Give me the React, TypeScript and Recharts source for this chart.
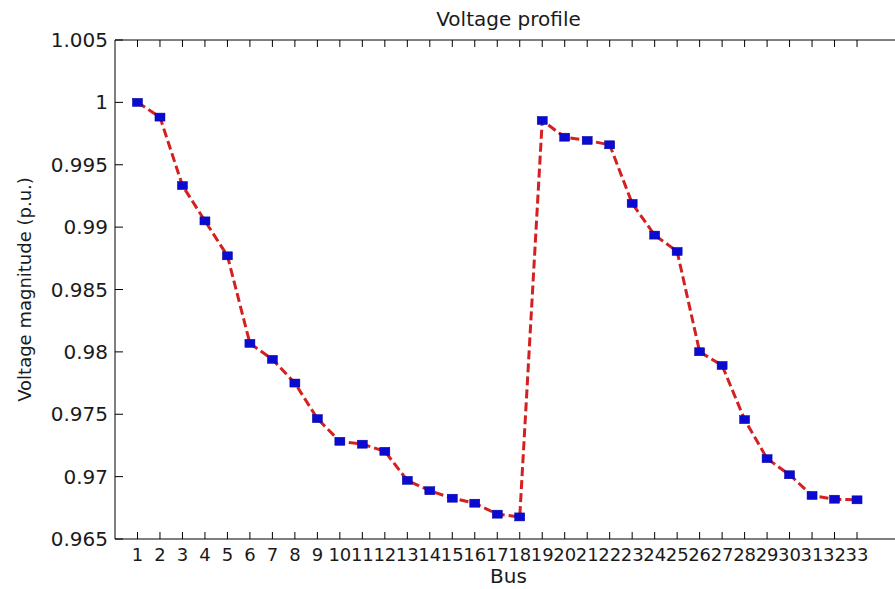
import React from 'react';
import { LineChart, Line, XAxis, YAxis } from 'recharts';

const buses = [
  1, 2, 3, 4, 5, 6, 7, 8, 9, 10, 11, 12, 13, 14, 15, 16, 17,
  18, 19, 20, 21, 22, 23, 24, 25, 26, 27, 28, 29, 30, 31, 32, 33,
];
const voltage = [
  1.0, 0.99882, 0.99333, 0.9905, 0.9877, 0.98068, 0.9794, 0.9775, 0.97465,
  0.97283, 0.9726, 0.97203, 0.9697, 0.96887, 0.96827, 0.96787, 0.96699,
  0.96677, 0.99855, 0.99721, 0.99695, 0.9966, 0.9919, 0.98936, 0.98805,
  0.98001, 0.97891, 0.97457, 0.97144, 0.97015, 0.96849, 0.96819, 0.96814,
];
const yTicks = [0.965, 0.97, 0.975, 0.98, 0.985, 0.99, 0.995, 1, 1.005];
const xDomain = [0, 35];
const yDomain = [0.965, 1.005];

const data = buses.map((b, i) => ({ bus: b, v: voltage[i] }));

const font = { fontFamily: 'DejaVu Sans', fontSize: 20, fill: '#1a1a1a' };
const axisLine = { stroke: '#000', strokeWidth: 1 };
const blank = () => '';

// blue square markers like matlab 's' marker
const SquareDot = (props: any) => {
  const { cx, cy, index } = props;
  if (cx == null || cy == null) return null;
  return <rect key={`d${index}`} x={cx - 5} y={cy - 4} width={10} height={8} fill="#0a0ad0" stroke="#0000a0" strokeWidth={0.5} />;
};

export default function App() {
  return (
    <div style={{ position: 'fixed', left: 0, top: 0, width: 895, height: 589, overflow: 'hidden', background: '#fff' }}>
      <LineChart width={905} height={589} data={data} margin={{ top: 40, right: 3, bottom: 3, left: 0 }}>
        {/* inward tick marks (mirrored, blank labels), declared first so they sit on the plot edge */}
        <XAxis xAxisId="bm" dataKey="bus" type="number" domain={xDomain} ticks={buses} interval={0}
          height={1} mirror axisLine={axisLine} tickLine={axisLine} tickSize={7} tickFormatter={blank} />
        <XAxis xAxisId="top" orientation="top" dataKey="bus" type="number" domain={xDomain} ticks={buses} interval={0}
          height={1} mirror axisLine={axisLine} tickLine={axisLine} tickSize={7} tickFormatter={blank}
          label={{ value: 'Voltage profile', position: 'top', offset: 14, ...font }} />
        <YAxis yAxisId="lm" type="number" domain={yDomain} ticks={yTicks} interval={0}
          width={1} mirror axisLine={axisLine} tickLine={axisLine} tickSize={8} tickFormatter={blank} />
        <YAxis yAxisId="right" orientation="right" type="number" domain={yDomain} ticks={yTicks} interval={0}
          width={1} mirror axisLine={axisLine} tickLine={axisLine} tickSize={7} tickFormatter={blank} />

        <XAxis
          dataKey="bus"
          type="number"
          domain={xDomain}
          ticks={buses}
          interval={0}
          height={47}
          axisLine={false}
          tickLine={false}
          tickSize={0}
          tickMargin={9}
          tick={{ ...font, fontSize: 18 }}
          label={{ value: 'Bus', position: 'insideBottom', offset: 3, ...font }}
        />
        <YAxis
          type="number"
          domain={yDomain}
          ticks={yTicks}
          interval={0}
          width={115}
          axisLine={false}
          tickLine={false}
          tickSize={0}
          tickMargin={7}
          tick={font}
          tickFormatter={(v: number) => String(+v.toFixed(3))}
          label={{
            value: 'Voltage magnitude (p.u.)',
            angle: -90,
            position: 'insideLeft',
            offset: 25,
            ...font,
            fontSize: 18,
            style: { textAnchor: 'middle' },
          }}
        />

        <Line xAxisId="bm" yAxisId="lm" dataKey="v" stroke="none" dot={false} activeDot={false} isAnimationActive={false} />
        <Line xAxisId="top" yAxisId="right" dataKey="v" stroke="none" dot={false} activeDot={false} isAnimationActive={false} />
        <Line
          dataKey="v"
          type="linear"
          stroke="#d42020"
          strokeWidth={3}
          strokeDasharray="9 4"
          dot={SquareDot}
          activeDot={false}
          isAnimationActive={false}
        />
      </LineChart>
    </div>
  );
}
